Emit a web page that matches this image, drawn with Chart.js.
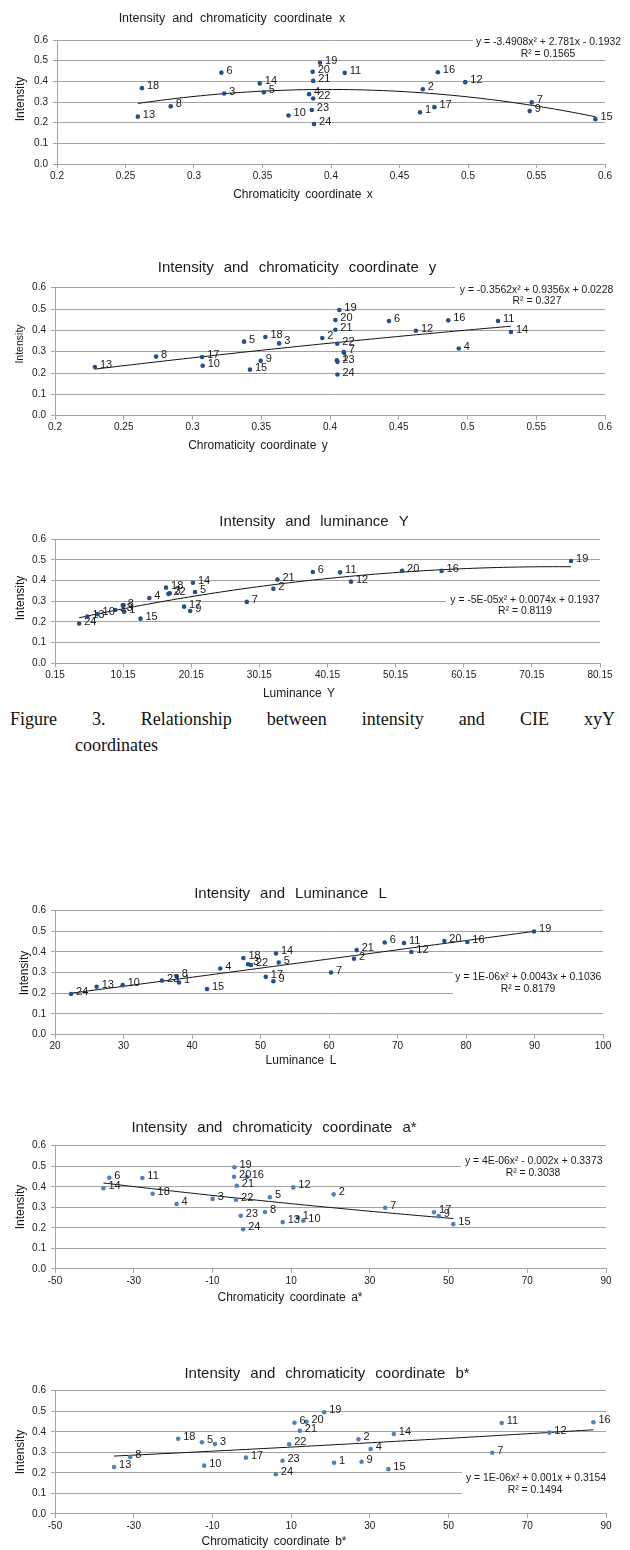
<!DOCTYPE html>
<html>
<head>
<meta charset="utf-8">
<title>Intensity and CIE coordinates</title>
<script src="https://cdn.jsdelivr.net/npm/chart.js@4.4.0/dist/chart.umd.min.js"></script>
<style>
  body { margin: 0; background: #fff; width: 630px; height: 1550px; position: relative; overflow: hidden; }
  canvas { position: absolute; left: 0; }
  .cap { position: absolute; font-family: 'Liberation Serif', 'Times New Roman', serif; font-size: 18px; line-height: 20px; color: #111; white-space: nowrap; }
  #cap1 { left: 10px; width: 605px; text-align: justify; text-align-last: justify; white-space: normal; }
  #cap2 { left: 75px; }
</style>
</head>
<body>
<div id="cap1" class="cap" style="top:709px">Figure 3. Relationship between intensity and CIE xyY</div>
<div id="cap2" class="cap" style="top:735px">coordinates</div>
<script>
// ---- data ----
const pointIds = ['1','2','3','4','5','6','7','8','9','10','11','12','13','14','15','16','17','18','19','20','21','22','23','24'];

const chromX = [0.465, 0.467, 0.322, 0.384, 0.351, 0.320, 0.5465, 0.283, 0.545, 0.369, 0.410, 0.498, 0.259, 0.348, 0.593, 0.478, 0.4755, 0.262, 0.392, 0.3866, 0.387, 0.387, 0.386, 0.3876];
const intensityVsX = [0.250, 0.362, 0.341, 0.338, 0.347, 0.442, 0.298, 0.279, 0.256, 0.235, 0.441, 0.396, 0.229, 0.390, 0.217, 0.444, 0.275, 0.367, 0.490, 0.446, 0.402, 0.317, 0.261, 0.193];

const chromY = [0.405, 0.3944, 0.363, 0.4936, 0.3375, 0.4429, 0.410, 0.2735, 0.3496, 0.3074, 0.5222, 0.4625, 0.229, 0.5316, 0.3418, 0.486, 0.307, 0.353, 0.4068, 0.4039, 0.4039, 0.4053, 0.4054, 0.4054];
const intensityVsY = [0.260, 0.364, 0.339, 0.315, 0.347, 0.444, 0.298, 0.277, 0.257, 0.234, 0.444, 0.398, 0.228, 0.392, 0.216, 0.447, 0.275, 0.369, 0.4955, 0.4485, 0.403, 0.337, 0.2525, 0.193];

const lumY = [10.3, 32.2, 17.0, 14.0, 20.7, 38.0, 28.3, 10.1, 20.0, 6.4, 42.0, 43.6, 4.9, 20.4, 12.7, 56.9, 19.1, 16.45, 75.9, 51.1, 32.8, 16.8, 9.0, 3.7];
const intensityVsLumY = [0.250, 0.361, 0.339, 0.316, 0.345, 0.442, 0.297, 0.279, 0.253, 0.238, 0.440, 0.395, 0.226, 0.390, 0.216, 0.447, 0.274, 0.366, 0.495, 0.448, 0.405, 0.336, 0.258, 0.192];

const lumL = [38.1, 63.65, 48.18, 44.13, 52.66, 68.13, 60.3, 37.76, 51.88, 29.88, 70.95, 72.02, 26.08, 52.26, 42.19, 80.2, 50.77, 47.5, 89.93, 76.84, 64.04, 48.6, 35.62, 22.34];
const intensityVsL = [0.252, 0.366, 0.340, 0.319, 0.348, 0.445, 0.300, 0.281, 0.258, 0.239, 0.442, 0.399, 0.231, 0.392, 0.220, 0.447, 0.279, 0.370, 0.498, 0.452, 0.408, 0.336, 0.261, 0.196];

const chromA = [11.7, 20.8, -9.95, -19.1, 4.6, -36.2, 33.9, 3.35, 47.5, 13.1, -27.8, 10.55, 7.85, -37.7, 51.2, -1.3, 46.3, -25.2, -4.4, -4.5, -3.8, -4.0, -2.8, -2.2];
const intensityVsA = [0.249, 0.363, 0.341, 0.316, 0.349, 0.444, 0.298, 0.277, 0.257, 0.235, 0.443, 0.397, 0.228, 0.393, 0.218, 0.447, 0.276, 0.366, 0.495, 0.449, 0.405, 0.337, 0.259, 0.193];

const chromB = [20.9, 27.1, -9.35, 30.2, -12.65, 10.85, 61.1, -30.9, 27.9, -12.1, 63.5, 75.6, -35.0, 36.1, 34.7, 86.8, -1.5, -18.7, 18.4, 13.9, 12.2, 9.5, 7.8, 6.1];
const intensityVsB = [0.249, 0.363, 0.340, 0.316, 0.349, 0.444, 0.298, 0.277, 0.254, 0.235, 0.443, 0.396, 0.228, 0.389, 0.218, 0.446, 0.274, 0.366, 0.495, 0.449, 0.405, 0.339, 0.259, 0.193];

// polynomial trendlines as printed on the charts: [x², x, const]
const trendX = [-3.4908, 2.781, -0.1932];
const trendY = [-0.3562, 0.9356, 0.0228];
const trendLumY = [-5e-5, 0.0074, 0.1937];
const trendL = [1e-6, 0.0043, 0.1036];
const trendA = [4e-6, -0.002, 0.3373];
const trendB = [1e-6, 0.001, 0.3154];

const equationTexts = [
    'y = -3.4908x² + 2.781x - 0.1932',
    'y = -0.3562x² + 0.9356x + 0.0228',
    'y = -5E-05x² + 0.0074x + 0.1937',
    'y = 1E-06x² + 0.0043x + 0.1036',
    'y = 4E-06x² - 0.002x + 0.3373',
    'y = 1E-06x² + 0.001x + 0.3154'
];
const rSquaredTexts = ['R² = 0.1565', 'R² = 0.327', 'R² = 0.8119', 'R² = 0.8179', 'R² = 0.3038', 'R² = 0.1494'];

// tick values and labels
const ticksChromX = [0.2, 0.25, 0.3, 0.35, 0.4, 0.45, 0.5, 0.55, 0.6];
const labelsChromX = ['0.2', '0.25', '0.3', '0.35', '0.4', '0.45', '0.5', '0.55', '0.6'];
const ticksLumY = [0.15, 10.15, 20.15, 30.15, 40.15, 50.15, 60.15, 70.15, 80.15];
const labelsLumY = ['0.15', '10.15', '20.15', '30.15', '40.15', '50.15', '60.15', '70.15', '80.15'];
const ticksL = [20, 30, 40, 50, 60, 70, 80, 90, 100];
const labelsL = ['20', '30', '40', '50', '60', '70', '80', '90', '100'];
const ticksAB = [-50, -30, -10, 10, 30, 50, 70, 90];
const labelsAB = ['-50', '-30', '-10', '10', '30', '50', '70', '90'];
const ticksIntensity = [0, 0.1, 0.2, 0.3, 0.4, 0.5, 0.6];
const labelsIntensity = ['0.0', '0.1', '0.2', '0.3', '0.4', '0.5', '0.6'];

// ---- look ----
const FONT = "'Liberation Sans', Arial, sans-serif";
const TEXT = '#1a1a1a';
const GRID = '#a3a3a3';
const NAVY = '#244f8e';
const BLUE = '#4f81bd';
const X_AXIS_H = 20;

// page-coordinate layout of each panel
const panels = [
    {
        xs: chromX, ys: intensityVsX, coef: trendX, eq: 0, color: NAVY,
        xTicks: ticksChromX, xLabels: labelsChromX,
        plot: { l: 57, r: 605, t: 40, b: 164 },
        title: { text: 'Intensity and chromaticity coordinate x', x: 232, y: 21.5, size: 12.5, gap: 7 },
        xTitle: { text: 'Chromaticity coordinate x', x: 303, y: 197.7 },
        yTitle: { x: 24, y: 99, size: 12 },
        eqPos: { x: 548.5, y: 44.7, rx: 548, ry: 56.7, box: [473, 33, 150, 27] }
    },
    {
        xs: chromY, ys: intensityVsY, coef: trendY, eq: 1, color: NAVY,
        xTicks: ticksChromX, xLabels: labelsChromX,
        plot: { l: 55, r: 605, t: 287.7, b: 415.7 },
        title: { text: 'Intensity and chromaticity coordinate y', x: 297, y: 271.7, size: 15, gap: 10 },
        xTitle: { text: 'Chromaticity coordinate y', x: 258, y: 449.4 },
        yTitle: { x: 22.7, y: 344, size: 10.5 },
        eqPos: { x: 536.5, y: 292.7, rx: 537, ry: 303.7, box: [455, 281, 160, 24] }
    },
    {
        xs: lumY, ys: intensityVsLumY, coef: trendLumY, eq: 2, color: NAVY,
        xTicks: ticksLumY, xLabels: labelsLumY,
        plot: { l: 55, r: 600, t: 539.3, b: 663.3 },
        title: { text: 'Intensity and luminance Y', x: 314, y: 526, size: 15, gap: 10 },
        xTitle: { text: 'Luminance Y', x: 299, y: 697 },
        yTitle: { x: 24, y: 598, size: 12 },
        eqPos: { x: 525, y: 603, rx: 525, ry: 613.7, box: [446, 592, 156, 26] }
    },
    {
        xs: lumL, ys: intensityVsL, coef: trendL, eq: 3, color: NAVY,
        xTicks: ticksL, xLabels: labelsL,
        plot: { l: 55, r: 603, t: 910.3, b: 1034.7 },
        title: { text: 'Intensity and Luminance L', x: 290.5, y: 897.7, size: 15, gap: 10 },
        xTitle: { text: 'Luminance L', x: 301, y: 1064 },
        yTitle: { x: 28, y: 973, size: 12 },
        eqPos: { x: 528.3, y: 979.7, rx: 528, ry: 991.7, box: [453, 968, 152, 28] }
    },
    {
        xs: chromA, ys: intensityVsA, coef: trendA, eq: 4, color: BLUE,
        xTicks: ticksAB, xLabels: labelsAB,
        plot: { l: 55, r: 606, t: 1145.7, b: 1268.9 },
        title: { text: 'Intensity and chromaticity coordinate a*', x: 274, y: 1131.7, size: 15, gap: 10 },
        xTitle: { text: 'Chromaticity coordinate a*', x: 290, y: 1300.7 },
        yTitle: { x: 24, y: 1207, size: 12 },
        eqPos: { x: 533.7, y: 1163.7, rx: 533, ry: 1176.4, box: [461, 1152, 146, 28] }
    },
    {
        xs: chromB, ys: intensityVsB, coef: trendB, eq: 5, color: BLUE,
        xTicks: ticksAB, xLabels: labelsAB,
        plot: { l: 55, r: 606, t: 1390.7, b: 1513.9 },
        title: { text: 'Intensity and chromaticity coordinate b*', x: 327, y: 1377.7, size: 15, gap: 10 },
        xTitle: { text: 'Chromaticity coordinate b*', x: 274, y: 1545 },
        yTitle: { x: 24, y: 1452, size: 12 },
        eqPos: { x: 536, y: 1480.7, rx: 535, ry: 1492.7, box: [462, 1469, 146, 27] }
    }
];

// draw words with a fixed gap, centred on cx
function drawSpaced(ctx, text, cx, y, gap) {
    const words = text.split(' ');
    const widths = words.map(w => ctx.measureText(w).width);
    const total = widths.reduce((a, b) => a + b, 0) + gap * (words.length - 1);
    let x = cx - total / 2;
    ctx.textAlign = 'left';
    words.forEach((w, i) => {
        ctx.fillText(w, x, y);
        x += widths[i] + gap;
    });
}

function makeOverlay(p, top) {
    return {
        id: 'overlay',
        beforeDatasetsDraw(chart) {
            const ctx = chart.ctx;
            const sx = chart.scales.x, sy = chart.scales.y;
            ctx.save();
            // equation label sits on a white box over the grid
            const b = p.eqPos.box;
            ctx.fillStyle = '#fff';
            ctx.fillRect(b[0], b[1] - top, b[2], b[3]);
            ctx.fillStyle = TEXT;
            ctx.font = `10.4px ${FONT}`;
            ctx.textAlign = 'center';
            ctx.textBaseline = 'alphabetic';
            ctx.fillText(equationTexts[p.eq], p.eqPos.x, p.eqPos.y - top);
            ctx.fillText(rSquaredTexts[p.eq], p.eqPos.rx, p.eqPos.ry - top);

            // trendline over the range of the data
            const [a2, a1, a0] = p.coef;
            const lo = Math.min(...p.xs), hi = Math.max(...p.xs);
            ctx.beginPath();
            for (let i = 0; i <= 80; i++) {
                const v = lo + (hi - lo) * i / 80;
                const px = sx.getPixelForValue(v);
                const py = sy.getPixelForValue(a2 * v * v + a1 * v + a0);
                if (i === 0) ctx.moveTo(px, py); else ctx.lineTo(px, py);
            }
            ctx.strokeStyle = '#111';
            ctx.lineWidth = 1;
            ctx.stroke();
            ctx.restore();
        },
        afterDatasetsDraw(chart) {
            // point number labels, to the right of each point
            const ctx = chart.ctx;
            const meta = chart.getDatasetMeta(0);
            ctx.save();
            ctx.fillStyle = TEXT;
            ctx.font = `11px ${FONT}`;
            ctx.textAlign = 'left';
            ctx.textBaseline = 'alphabetic';
            meta.data.forEach((el, i) => {
                ctx.fillText(pointIds[i], el.x + 5, el.y + 1);
            });
            ctx.restore();
        },
        afterDraw(chart) {
            const ctx = chart.ctx;
            ctx.save();
            ctx.fillStyle = TEXT;
            ctx.textBaseline = 'alphabetic';
            ctx.font = `${p.title.size}px ${FONT}`;
            drawSpaced(ctx, p.title.text, p.title.x, p.title.y - top, p.title.gap);
            ctx.font = `12px ${FONT}`;
            drawSpaced(ctx, p.xTitle.text, p.xTitle.x, p.xTitle.y - top, 5.5);
            // rotated y title
            ctx.translate(p.yTitle.x, p.yTitle.y - top);
            ctx.rotate(-Math.PI / 2);
            ctx.font = `${p.yTitle.size}px ${FONT}`;
            ctx.textAlign = 'center';
            ctx.fillText('Intensity', 0, 0);
            ctx.restore();
        }
    };
}

function buildPanel(p) {
    const top = Math.round(p.plot.t - 40);
    const height = Math.round(p.plot.b - p.plot.t + 85);
    const canvas = document.createElement('canvas');
    canvas.width = 630;
    canvas.height = height;
    canvas.style.top = top + 'px';
    canvas.style.width = '630px';
    canvas.style.height = height + 'px';
    document.body.appendChild(canvas);

    const tickFont = { size: 10, family: FONT };

    new Chart(canvas, {
        type: 'scatter',
        data: {
            datasets: [{
                data: p.xs.map((v, i) => ({ x: v, y: p.ys[i] })),
                pointRadius: 2.3,
                pointHoverRadius: 2.3,
                pointBackgroundColor: p.color,
                pointBorderWidth: 0
            }]
        },
        options: {
            responsive: false,
            animation: false,
            devicePixelRatio: 1,
            events: [],
            layout: {
                padding: {
                    left: 0,
                    top: p.plot.t - top,
                    right: 630 - p.plot.r,
                    bottom: height - (p.plot.b - top) - X_AXIS_H
                }
            },
            plugins: {
                legend: { display: false },
                title: { display: false },
                tooltip: { enabled: false }
            },
            scales: {
                x: {
                    type: 'linear',
                    min: p.xTicks[0],
                    max: p.xTicks[p.xTicks.length - 1],
                    afterBuildTicks: (s) => { s.ticks = p.xTicks.map(v => ({ value: v })); },
                    afterFit: (s) => { s.height = X_AXIS_H; },
                    ticks: {
                        callback: (v, i) => p.xLabels[i],
                        font: tickFont,
                        color: TEXT,
                        padding: 2,
                        autoSkip: false,
                        maxRotation: 0
                    },
                    grid: { drawOnChartArea: false, drawTicks: true, tickLength: 4, color: GRID },
                    border: { display: true, color: GRID }
                },
                y: {
                    type: 'linear',
                    min: 0,
                    max: 0.6,
                    afterBuildTicks: (s) => { s.ticks = ticksIntensity.map(v => ({ value: v })); },
                    afterFit: (s) => { s.width = p.plot.l; },
                    ticks: {
                        callback: (v, i) => labelsIntensity[i],
                        font: tickFont,
                        color: TEXT,
                        padding: 5,
                        autoSkip: false
                    },
                    grid: { color: GRID, tickLength: 4 },
                    border: { display: true, color: GRID }
                }
            }
        },
        plugins: [makeOverlay(p, top)]
    });
}

panels.forEach(buildPanel);
</script>
</body>
</html>
